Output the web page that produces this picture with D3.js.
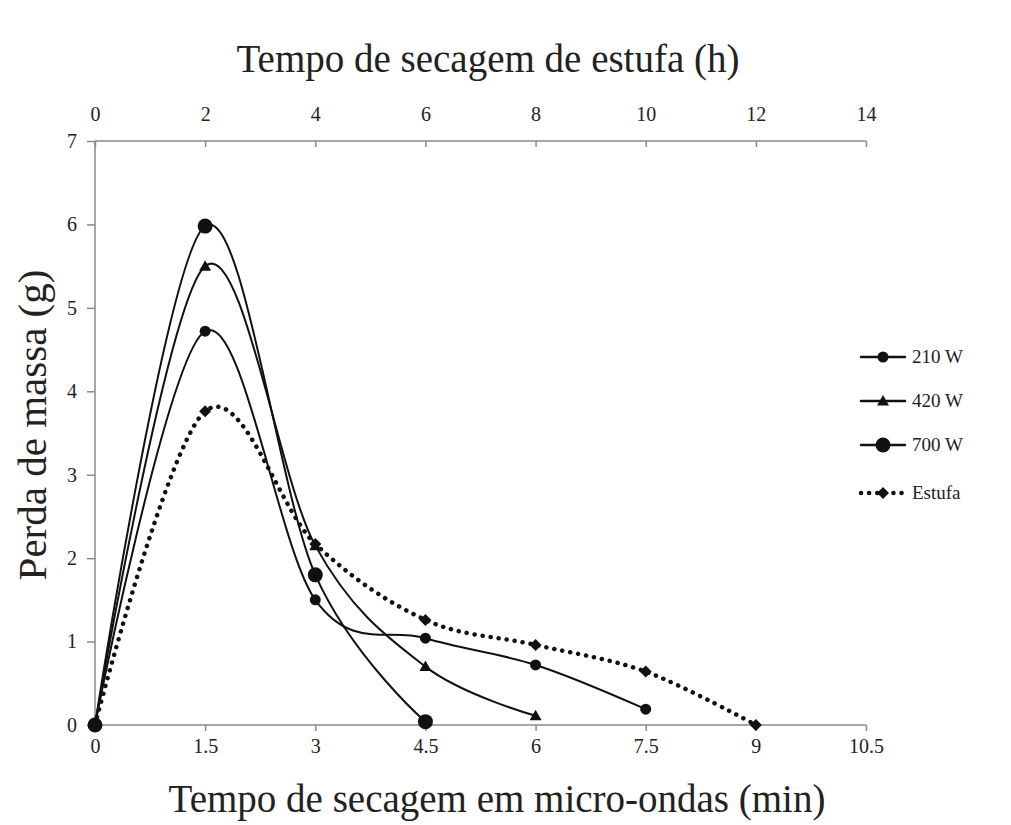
<!DOCTYPE html>
<html>
<head>
<meta charset="utf-8">
<script src="https://cdn.jsdelivr.net/npm/d3@7"></script>
<style>
  body { margin: 0; background: #fff; }
  svg text { font-family: "Liberation Serif", "DejaVu Serif", "Times New Roman", serif !important; fill: #222; }
  .axis path, .axis line { stroke: #8a8a8a; stroke-width: 1.5; }
</style>
</head>
<body>
<div id="chart"></div>
<script>
// microwave times (min) and oven times (h)
const minTicks = [0, 1.5, 3, 4.5, 6, 7.5, 9, 10.5];
const hourTicks = [0, 2, 4, 6, 8, 10, 12, 14];
const massTicks = [0, 1, 2, 3, 4, 5, 6, 7];

const t210 = [0, 1.5, 3, 4.5, 6, 7.5];
const m210 = [0, 4.72, 1.5, 1.04, 0.72, 0.19];
const t420 = [0, 1.5, 3, 4.5, 6];
const m420 = [0, 5.5, 2.15, 0.7, 0.11];
const t700 = [0, 1.5, 3, 4.5];
const m700 = [0, 5.98, 1.8, 0.04];
const tEstufa = [0, 2, 4, 6, 8, 10, 12];
const mEstufa = [0, 3.76, 2.17, 1.26, 0.96, 0.64, 0];

const legendNames = ['210 W', '420 W', '700 W', 'Estufa'];

const W = 1011, H = 825;
const m = { l: 95, r: 145, t: 141, b: 100 };

const svg = d3.select('#chart').append('svg')
    .attr('width', W)
    .attr('height', H);

const x = d3.scaleLinear().domain([0, 10.5]).range([m.l, W - m.r]);
const xTop = d3.scaleLinear().domain([0, 14]).range([m.l, W - m.r]);
const y = d3.scaleLinear().domain([0, 7]).range([H - m.b, m.t]);

svg.append('g')
    .attr('class', 'axis')
    .attr('transform', `translate(0,${H - m.b})`)
    .call(d3.axisBottom(x).tickValues(minTicks).tickFormat(d => d).tickSize(6).tickPadding(8))
    .call(g => g.select('.domain').attr('d', `M${m.l},0H${W - m.r}`))
    .selectAll('text').style('font-size', '20px');

svg.append('g')
    .attr('class', 'axis')
    .attr('transform', `translate(0,${m.t})`)
    .call(d3.axisTop(xTop).tickValues(hourTicks).tickFormat(d => d).tickSizeInner(-6).tickSizeOuter(0).tickPadding(20))
    .call(g => g.select('.domain').attr('d', `M${m.l},0H${W - m.r}`))
    .selectAll('text').style('font-size', '20px');

svg.append('g')
    .attr('class', 'axis')
    .attr('transform', `translate(${m.l},0)`)
    .call(d3.axisLeft(y).tickValues(massTicks).tickFormat(d => d).tickSize(8).tickPadding(10))
    .call(g => g.select('.domain').attr('d', `M0,${H - m.b}V${m.t}`))
    .selectAll('text').style('font-size', '20px');

// titles
svg.append('text')
    .attr('x', 488).attr('y', 72)
    .attr('text-anchor', 'middle')
    .style('font-size', '39px')
    .text('Tempo de secagem de estufa (h)');

svg.append('text')
    .attr('x', 497).attr('y', 812)
    .attr('text-anchor', 'middle')
    .style('font-size', '39px')
    .text('Tempo de secagem em micro-ondas (min)');

svg.append('text')
    .attr('transform', 'translate(46,425) rotate(-90)')
    .attr('text-anchor', 'middle')
    .style('font-size', '41px')
    .text('Perda de massa (g)');

const line = d3.line()
    .x(d => d[0])
    .y(d => d[1])
    .curve(d3.curveCardinal.tension(0));

const series = [
  { pts: t210.map((t, i) => [x(t), y(m210[i])]), shape: 'circle', r: 5.5, dash: null },
  { pts: t420.map((t, i) => [x(t), y(m420[i])]), shape: 'triangle', r: 6, dash: null },
  { pts: t700.map((t, i) => [x(t), y(m700[i])]), shape: 'circle', r: 7.5, dash: null },
  { pts: tEstufa.map((t, i) => [xTop(t), y(mEstufa[i])]), shape: 'diamond', r: 6, dash: '0.1 8' }
];

function marker(g, shape, r, cx, cy) {
  if (shape === 'circle') {
    g.append('circle').attr('cx', cx).attr('cy', cy).attr('r', r).attr('fill', '#111');
  } else if (shape === 'triangle') {
    g.append('path')
        .attr('d', `M${cx},${cy - r}L${cx + r},${cy + r * 0.75}L${cx - r},${cy + r * 0.75}Z`)
        .attr('fill', '#111');
  } else {
    g.append('path')
        .attr('d', `M${cx},${cy - r}L${cx + r},${cy}L${cx},${cy + r}L${cx - r},${cy}Z`)
        .attr('fill', '#111');
  }
}

const plot = svg.append('g');
series.forEach(s => {
  plot.append('path')
      .attr('d', line(s.pts))
      .attr('fill', 'none')
      .attr('stroke', '#111')
      .attr('stroke-width', s.dash ? 4.5 : 2)
      .attr('stroke-linecap', 'round')
      .attr('stroke-dasharray', s.dash);
  s.pts.forEach(p => marker(plot, s.shape, s.r, p[0], p[1]));
});

// legend
const legend = svg.append('g');
const legendY = [357, 401, 445, 493];
series.forEach((s, i) => {
  const ly = legendY[i];
  legend.append('line')
      .attr('x1', 861).attr('x2', 905)
      .attr('y1', ly).attr('y2', ly)
      .attr('stroke', '#111')
      .attr('stroke-width', s.dash ? 4.5 : 2.5)
      .attr('stroke-linecap', 'round')
      .attr('stroke-dasharray', s.dash);
  marker(legend, s.shape, s.r, 883, ly);
  legend.append('text')
      .attr('x', 912).attr('y', ly + 6)
      .style('font-size', '19px')
      .text(legendNames[i]);
});
</script>
</body>
</html>
